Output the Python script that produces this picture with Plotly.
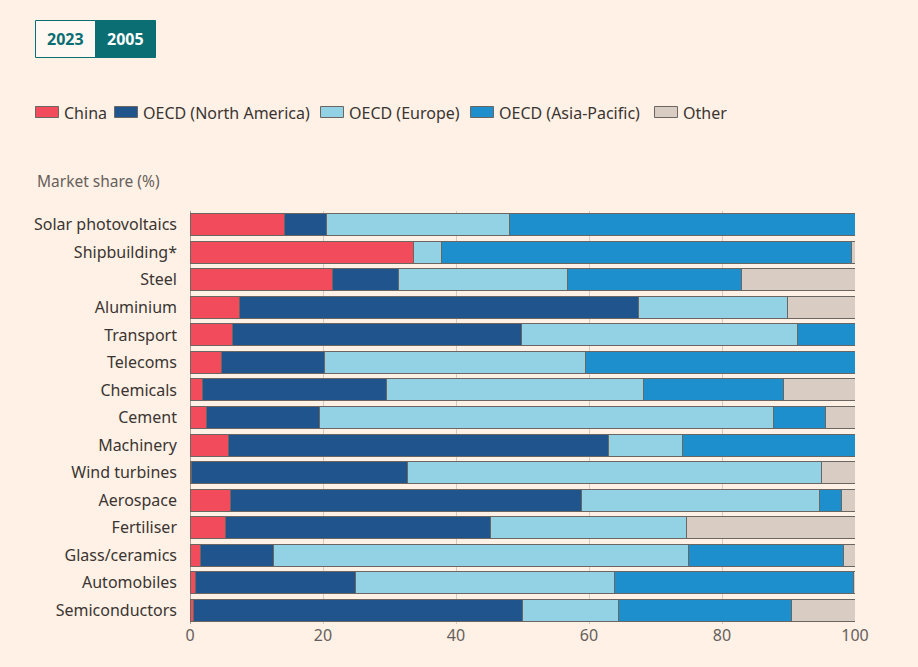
import plotly.graph_objects as go

categories = ["Solar photovoltaics", "Shipbuilding*", "Steel", "Aluminium", "Transport",
              "Telecoms", "Chemicals", "Cement", "Machinery", "Wind turbines",
              "Aerospace", "Fertiliser", "Glass/ceramics", "Automobiles", "Semiconductors"]

china = [14.2, 33.6, 21.4, 7.4, 6.4, 4.7, 1.9, 2.5, 5.8, 0.2, 6.1, 5.3, 1.6, 0.8, 0.6]
oecd_na = [6.3, 0.0, 10.0, 60.1, 43.5, 15.5, 27.7, 17.0, 57.2, 32.5, 52.8, 39.9, 11.0, 24.1, 49.4]
oecd_eu = [27.6, 4.2, 25.4, 22.4, 41.4, 39.2, 38.6, 68.2, 11.0, 62.2, 35.7, 29.5, 62.3, 39.0, 14.5]
oecd_ap = [51.9, 61.6, 26.2, 0.0, 8.7, 40.6, 21.1, 7.9, 26.0, 0.0, 3.4, 0.0, 23.3, 35.8, 25.9]
other = [0.0, 0.6, 17.0, 10.1, 0.0, 0.0, 10.7, 4.4, 0.0, 5.1, 2.0, 25.3, 1.8, 0.3, 9.6]

series_names = ["China", "OECD (North America)", "OECD (Europe)", "OECD (Asia-Pacific)", "Other"]
series_values = [china, oecd_na, oecd_eu, oecd_ap, other]
series_colors = ["#F24C5C", "#1F558C", "#93D1E4", "#1E8FCD", "#D9CCC3"]

FONT = "Noto Sans"
BG = "#FFF1E5"
TXT = "#3A3532"
EDGE = "#6B6661"

fig = go.Figure()
for name, vals, col in zip(series_names, series_values, series_colors):
    fig.add_trace(go.Bar(
        y=categories, x=vals, name=name, orientation="h",
        marker=dict(color=col, line=dict(color=EDGE, width=1)),
        hovertemplate="%{y}: %{x:.1f}%<extra>" + name + "</extra>",
        showlegend=False,
    ))

W, H = 918, 667
L, R, T, B = 190, 63, 211, 43
pw, ph = W - L - R, H - T - B

def px(x):
    return (x - L) / pw

def py(y):
    return (H - B - y) / ph

shapes = [
    dict(type="rect", xref="paper", yref="paper", x0=px(35.5), x1=px(95.5), y0=py(57.5), y1=py(20.5),
         fillcolor="#FFF8F2", line=dict(color="#0A6E73", width=1), layer="above"),
    dict(type="rect", xref="paper", yref="paper", x0=px(95.5), x1=px(155.5), y0=py(57.5), y1=py(20.5),
         fillcolor="#0A6E73", line=dict(color="#0A6E73", width=1), layer="above"),
]

annotations = [
    dict(text="<b>2023</b>", xref="paper", yref="paper", x=px(65.5), y=py(39), xanchor="center", yanchor="middle",
         showarrow=False, font=dict(family=FONT, size=16, color="#0A6E73")),
    dict(text="<b>2005</b>", xref="paper", yref="paper", x=px(125.5), y=py(39), xanchor="center", yanchor="middle",
         showarrow=False, font=dict(family=FONT, size=16, color="#FFFFFF")),
    dict(text="Market share (%)", xref="paper", yref="paper", x=px(35), y=py(181), xanchor="left", yanchor="middle",
         showarrow=False, font=dict(family=FONT, size=15.5, color="#66605C")),
]

# manual legend (wide swatches like the reference)
legend_x = [35, 114, 320, 470, 654]
for lx, name, col in zip(legend_x, series_names, series_colors):
    shapes.append(dict(type="rect", xref="paper", yref="paper", x0=px(lx + 0.5), x1=px(lx + 23.5),
                       y0=py(117.5), y1=py(106.5), fillcolor=col, line=dict(color=EDGE, width=1)))
    annotations.append(dict(text=name, xref="paper", yref="paper", x=px(lx + 27), y=py(113),
                            xanchor="left", yanchor="middle", showarrow=False,
                            font=dict(family=FONT, size=16, color=TXT)))

fig.update_layout(
    width=W, height=H,
    margin=dict(l=L, r=R, t=T, b=B, pad=0),
    paper_bgcolor=BG, plot_bgcolor=BG,
    barmode="stack", bargap=0.2,
    font=dict(family=FONT, size=16, color=TXT),
    showlegend=False,
    shapes=shapes, annotations=annotations,
    xaxis=dict(range=[0, 100], tickvals=[0, 20, 40, 60, 80, 100], showgrid=True, gridcolor="#D5CBC2",
               gridwidth=1, zeroline=True, zerolinecolor="#A69D96", zerolinewidth=1,
               tickfont=dict(family=FONT, size=16, color="#66605C"), fixedrange=True, showline=False),
    yaxis=dict(categoryorder="array", categoryarray=categories[::-1], showgrid=False,
               tickfont=dict(family=FONT, size=16, color=TXT), ticks="", ticklabelstandoff=12,
               fixedrange=True, showline=False),
)

fig.write_html("out.html")
